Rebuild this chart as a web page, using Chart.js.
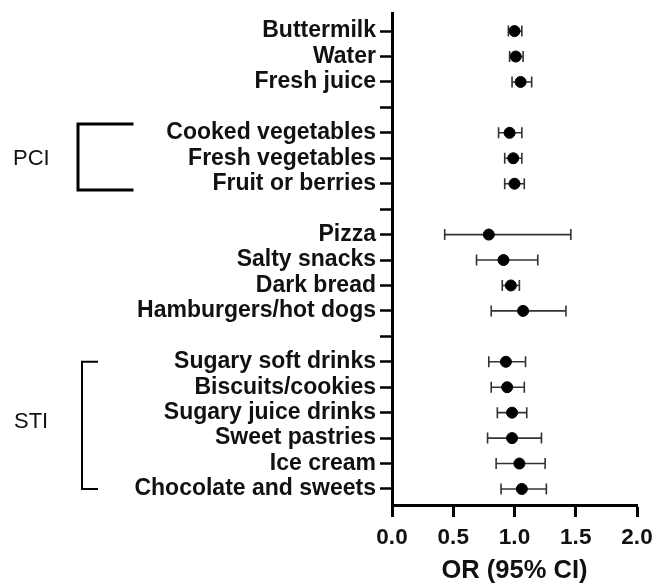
<!DOCTYPE html>
<html lang="en">

<head>
    <title>OR forest plot</title>
    <meta charset="utf-8">
    <script src="https://cdn.jsdelivr.net/npm/chart.js"></script>
    <style>
        body {
            margin: 0;
            background-color: #ffffff;
        }

        .chart-box {
            width: 654px;
            height: 583px;
        }
    </style>
</head>

<body>
    <div class="chart-box">
        <canvas id="forestChart"></canvas>
    </div>

    <script>
        // rows from top to bottom, '' = empty spacer row
        const categories = [
            'Buttermilk', 'Water', 'Fresh juice', '',
            'Cooked vegetables', 'Fresh vegetables', 'Fruit or berries', '',
            'Pizza', 'Salty snacks', 'Dark bread', 'Hamburgers/hot dogs', '',
            'Sugary soft drinks', 'Biscuits/cookies', 'Sugary juice drinks',
            'Sweet pastries', 'Ice cream', 'Chocolate and sweets'
        ];
        const orValues = [1.00, 1.01, 1.05, null, 0.96, 0.99, 1.00, null,
            0.79, 0.91, 0.97, 1.07, null, 0.93, 0.94, 0.98, 0.98, 1.04, 1.06];
        const ciLow = [0.95, 0.96, 0.98, null, 0.87, 0.92, 0.92, null,
            0.43, 0.69, 0.90, 0.81, null, 0.79, 0.81, 0.86, 0.78, 0.85, 0.89];
        const ciHigh = [1.06, 1.07, 1.14, null, 1.06, 1.06, 1.08, null,
            1.46, 1.19, 1.04, 1.42, null, 1.09, 1.08, 1.10, 1.22, 1.25, 1.26];
        const xTicks = [0, 0.5, 1.0, 1.5, 2.0];

        const points = [];
        categories.forEach((c, i) => {
            if (orValues[i] !== null) {
                points.push({ x: orValues[i], y: i, lo: ciLow[i], hi: ciHigh[i] });
            }
        });

        const FONT = 'Arial, "Liberation Sans", sans-serif';

        // whiskers for the 95% CI
        const errorBars = {
            id: 'errorBars',
            beforeDatasetsDraw(chart) {
                const ctx = chart.ctx;
                const xs = chart.scales.x;
                const ys = chart.scales.y;
                ctx.save();
                ctx.strokeStyle = '#333333';
                ctx.lineWidth = 1.6;
                points.forEach(p => {
                    const y = ys.getPixelForValue(p.y);
                    const x1 = xs.getPixelForValue(p.lo);
                    const x2 = xs.getPixelForValue(p.hi);
                    ctx.beginPath();
                    ctx.moveTo(x1, y);
                    ctx.lineTo(x2, y);
                    ctx.moveTo(x1, y - 5.5);
                    ctx.lineTo(x1, y + 5.5);
                    ctx.moveTo(x2, y - 5.5);
                    ctx.lineTo(x2, y + 5.5);
                    ctx.stroke();
                });
                ctx.restore();
            }
        };

        // PCI / STI group brackets on the left
        const groupBrackets = {
            id: 'groupBrackets',
            afterDraw(chart) {
                const ctx = chart.ctx;
                const ys = chart.scales.y;
                ctx.save();
                ctx.strokeStyle = '#000';
                ctx.lineCap = 'square';

                // PCI
                let top = ys.getPixelForValue(3.65);
                let bot = ys.getPixelForValue(6.25);
                ctx.lineWidth = 3;
                ctx.beginPath();
                ctx.moveTo(132, top);
                ctx.lineTo(78, top);
                ctx.lineTo(78, bot);
                ctx.lineTo(132, bot);
                ctx.stroke();

                // STI
                top = ys.getPixelForValue(13);
                bot = ys.getPixelForValue(18);
                ctx.lineWidth = 2;
                ctx.beginPath();
                ctx.moveTo(97, top);
                ctx.lineTo(82, top);
                ctx.lineTo(82, bot);
                ctx.lineTo(97, bot);
                ctx.stroke();

                ctx.fillStyle = '#111';
                ctx.font = '22px ' + FONT;
                ctx.textAlign = 'left';
                ctx.textBaseline = 'middle';
                ctx.fillText('PCI', 13, ys.getPixelForValue(5) + 0.5);
                ctx.fillText('STI', 14, ys.getPixelForValue(15.35));
                ctx.restore();
            }
        };

        const ctxForest = document.getElementById('forestChart').getContext('2d');
        new Chart(ctxForest, {
            type: 'scatter',
            data: {
                datasets: [{
                    label: 'OR',
                    data: points,
                    backgroundColor: '#000',
                    borderColor: '#000',
                    pointRadius: 5.5,
                    pointHoverRadius: 5.5
                }]
            },
            options: {
                responsive: true,
                maintainAspectRatio: false,
                animation: false,
                layout: {
                    padding: { top: 13, right: 17, bottom: 0, left: 0 }
                },
                plugins: {
                    legend: { display: false },
                    tooltip: { enabled: false }
                },
                scales: {
                    x: {
                        type: 'linear',
                        min: 0,
                        max: 2,
                        afterBuildTicks: scale => {
                            scale.ticks = xTicks.map(v => ({ value: v }));
                        },
                        afterFit: scale => {
                            scale.height = 78;
                            scale.paddingLeft = 0;
                            scale.paddingRight = 0;
                        },
                        ticks: {
                            color: '#111',
                            padding: 7,
                            font: { family: FONT, size: 22.5, weight: 'bold' },
                            callback: v => Number(v).toFixed(1)
                        },
                        grid: {
                            drawOnChartArea: false,
                            color: '#000',
                            tickLength: 12,
                            tickWidth: 3
                        },
                        border: { color: '#000', width: 3 },
                        title: {
                            display: true,
                            text: 'OR (95% CI)',
                            color: '#111',
                            padding: { top: 0, bottom: -3 },
                            font: { family: FONT, size: 25.5, weight: 'bold' }
                        }
                    },
                    y: {
                        type: 'linear',
                        reverse: true,
                        min: -0.71,
                        max: 18.63,
                        afterBuildTicks: scale => {
                            scale.ticks = categories.map((c, i) => ({ value: i }));
                        },
                        afterFit: scale => {
                            scale.width = 392;
                            scale.paddingTop = 0;
                            scale.paddingBottom = 0;
                        },
                        ticks: {
                            autoSkip: false,
                            color: '#111',
                            padding: 4,
                            font: { family: FONT, size: 23, weight: 'bold' },
                            callback: v => categories[v] || ''
                        },
                        grid: {
                            drawOnChartArea: false,
                            color: '#000',
                            tickLength: 12,
                            tickWidth: 2.5
                        },
                        border: { color: '#000', width: 3 }
                    }
                }
            },
            plugins: [errorBars, groupBrackets]
        });
    </script>
</body>

</html>
